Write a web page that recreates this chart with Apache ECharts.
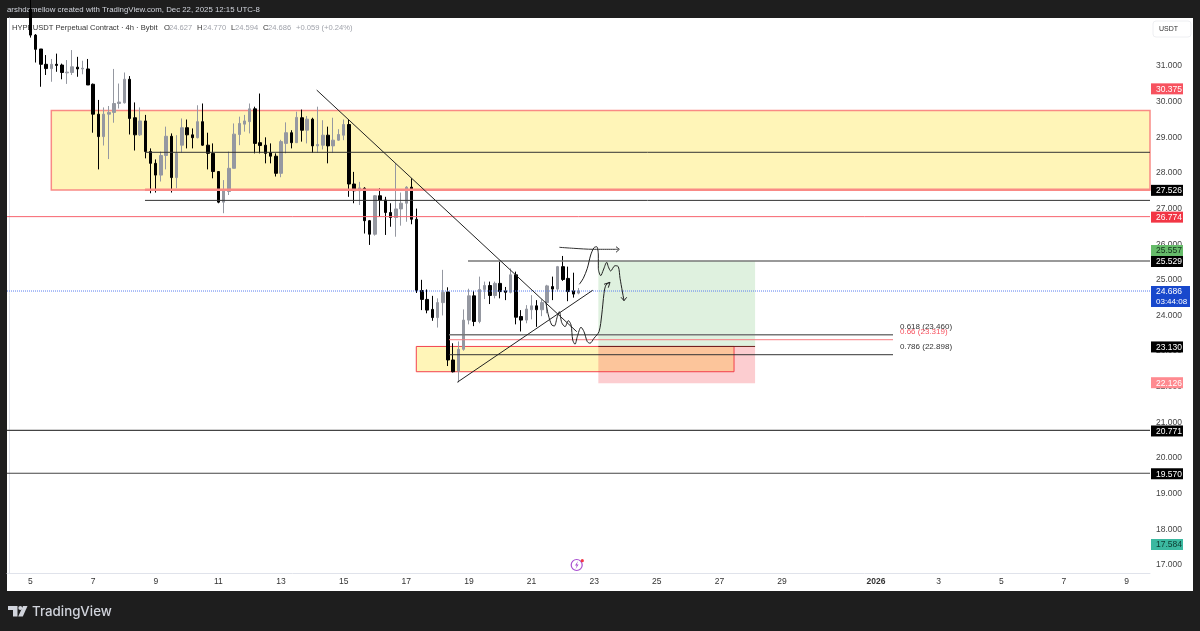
<!DOCTYPE html>
<html>
<head>
<meta charset="utf-8">
<title>HYPEUSDT 4h</title>
<script src="https://cdn.jsdelivr.net/npm/echarts@6/dist/echarts.min.js"></script>
<style>
html,body{margin:0;padding:0;background:#1e1e1e;}
#main{width:1200px;height:631px;}
</style>
</head>
<body>
<div id="main"></div>
<script>
//candles, 4h bars, first one is Dec 5 00:00
var opens = [32.6,31.87,31.48,31.05,30.93,31.05,31.03,30.81,30.82,30.97,30.92,30.92,30.49,29.65,29.02,29.65,29.7,29.95,29.97,30.63,
	29.55,29.07,29.46,28.6,28.27,27.94,28.49,29.03,27.87,28.78,29.27,29.07,28.99,29.44,28.78,28.55,28.04,27.18,27.48,28.13,
	29.08,29.37,29.44,29.8,28.85,28.78,28.57,28.47,27.99,28.83,29.13,28.85,29.55,29.2,29.51,28.76,28.78,29.06,28.76,28.92,
	29.06,29.36,27.69,27.5,27.57,26.66,26.28,27.36,27.24,26.89,26.75,26.99,27.15,27.6,26.7,24.7,24.45,24.17,23.94,24.36,
	24.66,22.75,22.44,23.05,23.87,24.55,23.83,24.73,24.84,24.56,24.9,24.69,24.65,25.14,23.97,23.87,24.16,24.27,24.16,24.36,
	24.81,24.74,25.37,25.04,24.69,24.627];
var closes = [31.87,31.47,31.05,30.93,31.05,31.02,30.82,30.83,30.98,30.92,30.94,30.47,29.65,29.02,29.65,29.7,29.95,29.99,30.63,29.53,
	29.07,29.46,28.6,28.27,27.94,28.49,29.03,27.87,28.55,29.27,29.07,28.99,29.44,28.78,28.55,28.04,27.18,27.5,28.13,29.09,
	29.39,29.46,29.8,28.83,28.77,28.55,28.47,27.99,28.88,29.13,28.85,29.56,29.2,29.51,28.76,28.8,29.06,28.76,28.92,29.08,
	29.36,27.69,27.5,27.58,26.66,26.28,27.36,27.24,26.89,26.75,26.99,27.15,27.6,26.7,24.7,24.45,24.15,23.94,24.36,24.65,
	22.75,22.42,23.05,23.87,24.55,23.83,24.73,24.84,24.56,24.9,24.67,24.65,25.14,23.95,23.87,24.18,24.27,24.16,24.36,24.83,
	24.74,25.37,25.01,24.67,24.6,24.686];
var lows = [31.8,31.1,30.42,30.75,30.56,30.84,30.63,30.5,30.75,30.7,30.77,30.47,29.13,28.1,28.77,28.39,29.41,29.81,29.95,29.08,
	28.63,29.04,28.41,27.43,27.45,27.76,28.1,27.45,27.57,28.57,28.69,28.69,28.97,28.76,28.1,27.85,27.15,26.87,27.38,28.13,
	28.78,29.16,29.11,28.55,28.55,28.27,28.27,27.9,27.88,28.55,28.69,28.86,28.88,28.83,28.57,28.57,28.66,28.27,28.57,28.9,
	28.92,27.33,27.15,27.1,26.3,25.98,26.24,26.77,26.26,26.49,26.21,26.52,26.63,26.56,24.63,24.15,24.06,23.85,23.66,24.0,
	22.58,22.4,22.12,23.01,23.75,23.7,23.78,24.46,24.32,24.48,24.48,24.43,24.62,23.75,23.55,23.78,23.89,23.68,23.98,24.06,
	24.43,24.67,24.97,24.4,24.5,24.594];
var highs = [33.2,31.9,31.48,31.31,31.2,31.35,31.07,31.17,31.45,31.26,31.15,31.2,30.51,30.05,29.84,29.88,30.92,30.51,30.82,30.72,
	29.98,29.84,29.63,28.69,28.38,28.6,29.3,29.11,29.06,29.53,29.5,29.25,29.9,29.95,29.13,28.83,28.05,27.8,28.6,29.39,
	29.58,29.63,29.95,29.86,30.23,29.0,28.83,28.55,28.93,29.42,29.2,29.72,29.78,29.6,29.55,29.86,29.48,29.3,29.55,29.23,
	29.5,29.5,28.03,27.75,27.6,26.68,27.38,27.57,27.33,27.15,28.27,27.45,27.63,27.85,27.0,25.0,24.73,24.55,24.48,25.28,
	24.79,23.22,23.27,24.17,24.75,24.69,25.09,24.95,24.95,24.95,25.51,24.8,25.32,25.23,24.15,24.29,24.57,24.43,24.45,24.86,
	25.09,25.39,25.67,25.37,25.2,24.77];

//time axis
var barCount = 219;
var firstBar = 4;
var tickBars = [4,16,28,40,52,64,76,88,100,112,124,136,148,166,178,190,202,214];
var tickLabels = ['5','7','9','11','13','15','17','19','21','23','25','27','29','2026','3','5','7','9'];

//price axis
var priceTicks = [17,18,19,20,21,22,23,24,25,26,27,28,29,30,31];

//zones: large resistance box, lower demand box, long position target and stop
var zoneLeft = [7.99,77.92,112.8,112.8];
var zoneRight = [218.5,138.8,142.83,142.83];
var zoneTop = [29.75,23.13,25.53,23.13];
var zoneBottom = [27.52,22.42,23.13,22.1];

//horizontal lines
var levelPrices = [28.58,27.526,27.23,26.774,25.529,24.686,20.771,19.57,23.46,23.319,22.898,23.13];
var levelStart = [25.94,25.94,25.94,-0.5,87.83,-0.5,-0.5,-0.5,84.19,84.19,84.19,112.8];
var levelEnd = [218.5,218.5,218.5,218.5,218.5,218.5,218.5,218.5,169.26,169.26,169.26,142.83];

//fib labels
var fibPrices = [23.46,23.319,22.898];
var fibLabels = ['0.618 (23.460)','0.66 (23.319)','0.786 (22.898)'];

//drawn trendlines
var downTrend = [[58.84,30.327],[108.66,23.545]];
var upTrend = [[85.78,22.125],[111.73,24.707]];

//hand drawn paths
var pathTop = [[105.33,25.913],[108,25.885],[111.84,25.857],[116.63,25.857]];
var pathTopHead = [[116.19,25.93],[116.82,25.857],[116.19,25.773]];
var pathUpper = [[109.16,24.875],[109.92,25.043],[110.69,25.324],[111.34,25.697],[111.97,25.902],[112.49,25.93],[112.8,25.697],[112.8,25.324],
	[113.26,25.116],[113.76,25.276],[114.41,25.492],[114.71,25.369],[115.17,25.248],[115.99,25.397],[116.63,25.369],[116.96,25.043],[117.72,24.415]];
var pathUpperHead = [[117.15,24.51],[117.72,24.415],[118.24,24.51]];
var pathLower = [[102.72,24.387],[103.22,24.014],[103.87,23.733],[104.37,23.705],[104.94,23.966],[105.33,24.106],[105.79,23.798],[106.42,23.685],
	[107.05,23.854],[107.57,23.733],[107.89,23.312],[108.33,23.191],[108.77,23.405],[109.48,23.669],[110.05,23.545],[110.69,23.264],[111.21,23.22],
	[111.97,23.36],[112.93,23.545],[113.45,24.014],[113.89,24.622],[114.27,24.855],[115.04,24.931]];
var pathLowerHead = [[113.89,24.875],[115.04,24.931],[114.71,24.78]];

//price tags on the right axis
var tagPrices = [30.375,27.526,26.774,25.557,25.529,24.686,23.13,22.126,20.771,19.57,17.584];
var tagLabels = ['30.375','27.526','26.774','25.557','25.529','24.686','23.130','22.126','20.771','19.570','17.584'];
var countdown = '03:44:08';

var fontName = '"Liberation Sans", Arial, sans-serif';
var zoneFills = ['#fff5b8','#fff5b8','rgba(76,175,80,0.18)','rgba(242,54,69,0.25)'];
var zoneStrokes = ['#f98a85','#f2424f',null,null];
var zoneWidths = [1.5,1,0,0];
var levelColors = ['#333','#f98a85','#333','#f7646e','#777','#5b7ff0','#444','#444','#777','#f77c80','#333','#6b1d1d'];
var levelWidths = [1,2.5,1,1,1.5,1,1.2,1.2,1.5,1,1,1];
var tagFills = ['#f7525f','#000','#f23645','#66bb6a','#000','#1848cc','#000','#ff8a90','#000','#000','#3bb8a0'];
var tagText = ['#fff','#fff','#fff','#12301a','#fff','#fff','#fff','#fff','#fff','#fff','#0d3b30'];
var tagShift = [0,0,0,-10,0,0,0,0,0,0,0];

var categories = [];
for(var i=0;i<barCount;i++){
	var t = tickBars.indexOf(i);
	categories.push(t>=0 ? tickLabels[t] : 'b'+i);
}

var candleData = [];
for(var i=0;i<barCount;i++){
	var n = i-firstBar;
	if(n>=0 && n<opens.length){
		candleData.push([opens[n],closes[n],lows[n],highs[n]]);
	}else{
		candleData.push(['-','-','-','-']);
	}
}

//one polyline drawn on the hidden bar axis
function drawing(points,color,width,smooth,type){
	return {
		type:'line',
		xAxisIndex:1,
		yAxisIndex:0,
		data:points,
		showSymbol:false,
		silent:true,
		smooth:smooth||false,
		z:4,
		lineStyle:{color:color,width:width,type:type||'solid'},
		animation:false
	};
}

var series = [];

//zone boxes under the candles
var zoneData = [];
for(var i=0;i<zoneLeft.length;i++){
	zoneData.push([zoneLeft[i],zoneRight[i],zoneTop[i],zoneBottom[i],i]);
}
series.push({
	type:'custom',
	xAxisIndex:1,
	yAxisIndex:0,
	silent:true,
	z:1,
	animation:false,
	encode:{x:[0,1],y:[2,3]},
	data:zoneData,
	renderItem:function(params,api){
		var k = api.value(4);
		var a = api.coord([api.value(0),api.value(2)]);
		var b = api.coord([api.value(1),api.value(3)]);
		return {
			type:'rect',
			shape:{x:a[0],y:a[1],width:b[0]-a[0],height:b[1]-a[1]},
			style:{fill:zoneFills[k],stroke:zoneStrokes[k]||'none',lineWidth:zoneWidths[k]}
		};
	}
});

series.push({
	type:'candlestick',
	xAxisIndex:0,
	yAxisIndex:0,
	data:candleData,
	barWidth:3,
	silent:true,
	z:3,
	animation:false,
	itemStyle:{color:'#9598a1',color0:'#000',borderColor:'#9598a1',borderColor0:'#000',borderWidth:1}
});

for(var i=0;i<levelPrices.length;i++){
	series.push(drawing([[levelStart[i],levelPrices[i]],[levelEnd[i],levelPrices[i]]],levelColors[i],levelWidths[i],false,i==5?'dotted':'solid'));
}
series.push(drawing(downTrend,'#222',1));
series.push(drawing(upTrend,'#222',1));
series.push(drawing(pathTop,'#333',1,0.3));
series.push(drawing(pathTopHead,'#333',1));
series.push(drawing(pathUpper,'#222',1,0.3));
series.push(drawing(pathUpperHead,'#222',1));
series.push(drawing(pathLower,'#222',1,0.3));
series.push(drawing(pathLowerHead,'#222',1));

//fib labels
series.push({
	type:'custom',
	xAxisIndex:1,
	yAxisIndex:0,
	silent:true,
	z:5,
	animation:false,
	data:fibPrices.map(function(p,k){return [170.6,p,k];}),
	renderItem:function(params,api){
		var k = api.value(2);
		var c = api.coord([api.value(0),api.value(1)]);
		return {
			type:'text',
			style:{text:fibLabels[k],x:c[0],y:c[1]-8,fill:k==1?'#f7525f':'#333',font:'8px '+fontName,textAlign:'left',textVerticalAlign:'middle'}
		};
	}
});

//price tags
series.push({
	type:'custom',
	xAxisIndex:1,
	yAxisIndex:0,
	silent:true,
	z:10,
	animation:false,
	data:tagPrices.map(function(p,k){return [218.5,p,k];}),
	renderItem:function(params,api){
		var k = api.value(2);
		var c = api.coord([api.value(0),api.value(1)]);
		var y = c[1]+tagShift[k]+0.5;
		var hasTimer = tagLabels[k]=='24.686';
		var kids = [{
			type:'rect',
			shape:{x:c[0]+1,y:y-5.5,width:hasTimer?39:32,height:hasTimer?21:11},
			style:{fill:tagFills[k]}
		},{
			type:'text',
			style:{text:tagLabels[k],x:c[0]+6,y:y+0.5,fill:tagText[k],font:'8.5px '+fontName,textAlign:'left',textVerticalAlign:'middle'}
		}];
		if(hasTimer){
			kids.push({
				type:'text',
				style:{text:countdown,x:c[0]+6,y:y+10.5,fill:'#fff',font:'8px '+fontName,textAlign:'left',textVerticalAlign:'middle'}
			});
		}
		return {type:'group',children:kids};
	}
});

var option = {
	backgroundColor:'#1e1e1e',
	animation:false,
	grid:{left:7,top:18,width:1143,height:555,show:false},
	xAxis:[{
		type:'category',
		data:categories,
		boundaryGap:true,
		axisLine:{lineStyle:{color:'#e0e3eb'}},
		axisTick:{show:false},
		splitLine:{show:false},
		axisLabel:{
			interval:function(index){return tickBars.indexOf(index)>=0;},
			color:'#333',
			fontFamily:fontName,
			fontSize:8.5,
			margin:4,
			hideOverlap:false,
			formatter:function(v){return v=='2026' ? '{b|2026}' : v;},
			rich:{b:{fontWeight:'bold',fontSize:8.5,fontFamily:fontName,color:'#333'}}
		}
	},{
		type:'value',
		min:-0.5,
		max:218.5,
		show:false
	}],
	yAxis:[{
		type:'value',
		position:'right',
		min:16.77,
		max:32.35,
		axisLine:{show:true,lineStyle:{color:'#e0e3eb'}},
		axisTick:{show:false},
		splitLine:{show:false},
		axisLabel:{
			customValues:priceTicks,
			color:'#444',
			fontFamily:fontName,
			fontSize:8.5,
			margin:6,
			padding:[2,0,0,0],
			showMinLabel:true,
			showMaxLabel:true,
			formatter:function(v){return v.toFixed(3);}
		}
	}],
	series:series,
	graphic:[
		{type:'rect',z:-10,shape:{x:7,y:18,width:1186,height:573},style:{fill:'#fff'}},
		{type:'rect',z:-9,shape:{x:1153,y:21,width:38,height:16,r:3},style:{fill:'#fff',stroke:'#eeeff2',lineWidth:1}},
		{type:'text',z:-8,style:{text:'USDT',x:1159,y:29,fill:'#333',font:'7px '+fontName,textVerticalAlign:'middle'}},
		{type:'text',z:-8,style:{text:'arshdamellow created with TradingView.com, Dec 22, 2025 12:15 UTC-8',x:7,y:9.5,fill:'#d1d4dc',font:'7.85px '+fontName,textVerticalAlign:'middle'}},
		{type:'text',z:-8,style:{text:'HYPEUSDT Perpetual Contract \u00b7 4h \u00b7 Bybit',x:12,y:27.5,fill:'#333',font:'7.6px '+fontName,textVerticalAlign:'middle'}},
		{type:'text',z:-8,style:{text:'O',x:164,y:27.5,fill:'#333',font:'7.6px '+fontName,textVerticalAlign:'middle'}},
		{type:'text',z:-8,style:{text:'24.627',x:169,y:27.5,fill:'#a0a3ab',font:'7.6px '+fontName,textVerticalAlign:'middle'}},
		{type:'text',z:-8,style:{text:'H',x:197,y:27.5,fill:'#333',font:'7.6px '+fontName,textVerticalAlign:'middle'}},
		{type:'text',z:-8,style:{text:'24.770',x:203,y:27.5,fill:'#a0a3ab',font:'7.6px '+fontName,textVerticalAlign:'middle'}},
		{type:'text',z:-8,style:{text:'L',x:231,y:27.5,fill:'#333',font:'7.6px '+fontName,textVerticalAlign:'middle'}},
		{type:'text',z:-8,style:{text:'24.594',x:235,y:27.5,fill:'#a0a3ab',font:'7.6px '+fontName,textVerticalAlign:'middle'}},
		{type:'text',z:-8,style:{text:'C',x:263,y:27.5,fill:'#333',font:'7.6px '+fontName,textVerticalAlign:'middle'}},
		{type:'text',z:-8,style:{text:'24.686',x:268,y:27.5,fill:'#a0a3ab',font:'7.6px '+fontName,textVerticalAlign:'middle'}},
		{type:'text',z:-8,style:{text:'+0.059 (+0.24%)',x:296,y:27.5,fill:'#a0a3ab',font:'7.6px '+fontName,textVerticalAlign:'middle'}},
		//bolt marker on the time scale
		{type:'circle',z:5,shape:{cx:576.7,cy:565,r:5.5},style:{fill:'#fff',stroke:'#a94fd0',lineWidth:1.2}},
		{type:'polygon',z:6,shape:{points:[[578,561],[575,565.5],[576.8,565.5],[575.6,569],[578.6,564.4],[576.8,564.4]]},style:{fill:'#a94fd0'}},
		{type:'circle',z:6,shape:{cx:582.3,cy:560.7,r:1.6},style:{fill:'#f23645'}},
		//logo strip
		{type:'polygon',z:-8,shape:{points:[[8,606],[17.5,606],[17.5,616.5],[13,616.5],[13,610],[8,610]]},style:{fill:'#d1d4dc'}},
		{type:'circle',z:-8,shape:{cx:20.3,cy:608,r:2},style:{fill:'#d1d4dc'}},
		{type:'polygon',z:-8,shape:{points:[[23,606],[27.5,606],[22.8,616.5],[18.2,616.5]]},style:{fill:'#d1d4dc'}},
		{type:'text',z:-8,style:{text:'TradingView',x:32,y:611.5,fill:'#d1d4dc',font:'500 13.3px Inter, sans-serif',textVerticalAlign:'middle'}}
	]
};

var myChart = echarts.init(document.getElementById('main'));
myChart.setOption(option);
</script>
</body>
</html>
